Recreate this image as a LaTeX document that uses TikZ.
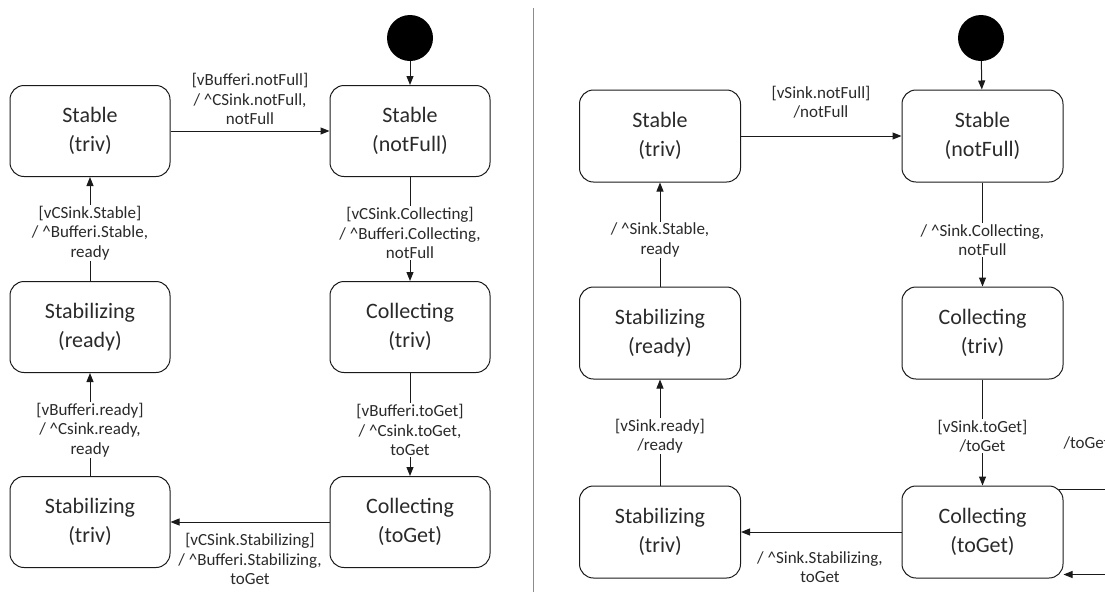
\documentclass[tikz,border=0pt]{standalone}
\usepackage{fontspec}
\setmainfont{Carlito}
\usetikzlibrary{arrows.meta}
\definecolor{ink}{HTML}{1A1A1A}
\definecolor{txt}{HTML}{2A2A2A}
\definecolor{rule}{HTML}{8C8C8C}
\newcommand{\caret}{\textasciicircum}
\begin{document}
\begin{tikzpicture}[x=1pt,y=-1pt,
  state/.style={draw=ink, line width=1pt, rounded corners=14pt, minimum width=160pt,
    minimum height=91pt, inner sep=0pt, align=center, text=txt,
    font=\fontsize{22}{29}\selectfont},
  tallstate/.style={state, minimum width=161pt, minimum height=92pt},
  initial/.style={circle, fill=black, minimum size=46pt, inner sep=0pt},
  trans/.style={draw=ink, line width=1pt, -{Triangle[length=9pt,width=7pt]}},
  lbl/.style={fill=white, inner sep=1pt, align=center, text=txt,
    font=\fontsize{17}{19.5}\selectfont},
]
\useasboundingbox (0,0) rectangle (1105,595);
\clip (0,0) rectangle (1105,595);

% ---------- left machine ----------
\node[initial] (i1) at (410,38) {};
\node[state] (st1) at (90,131)  {Stable\\(triv)};
\node[state] (sn1) at (410,131) {Stable\\(notFull)};
\node[state] (sr1) at (90,327)  {Stabilizing\\(ready)};
\node[state] (ct1) at (410,327) {Collecting\\(triv)};
\node[state] (sz1) at (90,522)  {Stabilizing\\(triv)};
\node[state] (cg1) at (410,522) {Collecting\\(toGet)};

\draw[trans] (i1) -- (sn1);
\draw[trans] (st1) -- (sn1)
  node[lbl, fill=none] at (250,99) {[vBufferi.notFull]\\/ \caret CSink.notFull,\\notFull};
\draw[trans] (sn1) -- (ct1)
  node[lbl] at (410,233) {[vCSink.Collecting]\\/ \caret Bufferi.Collecting,\\notFull};
\draw[trans] (ct1) -- (cg1)
  node[lbl] at (410,430) {[vBufferi.toGet]\\/ \caret Csink.toGet,\\toGet};
\draw[trans] (cg1) -- (sz1)
  node[lbl, fill=none] at (250,559) {[vCSink.Stabilizing]\\/ \caret Bufferi.Stabilizing,\\toGet};
\draw[trans] (sz1) -- (sr1)
  node[lbl] at (90,430) {[vBufferi.ready]\\/ \caret Csink.ready,\\ready};
\draw[trans] (sr1) -- (st1)
  node[lbl] at (90,233) {[vCSink.Stable]\\/ \caret Bufferi.Stable,\\ready};

% ---------- divider ----------
\draw[rule, line width=1pt] (533,8) -- (533,592);

% ---------- right machine ----------
\node[initial] (i2) at (981,38) {};
\node[tallstate] (st2) at (660,136)   {Stable\\(triv)};
\node[tallstate] (sn2) at (982.5,136) {Stable\\(notFull)};
\node[tallstate] (sr2) at (660,333)   {Stabilizing\\(ready)};
\node[tallstate] (ct2) at (982.5,333) {Collecting\\(triv)};
\node[tallstate] (sz2) at (660,532)   {Stabilizing\\(triv)};
\node[tallstate] (cg2) at (982.5,532) {Collecting\\(toGet)};

\draw[trans] (i2) -- (sn2);
\draw[trans] (st2) -- (sn2)
  node[lbl, fill=none] at (821,102) {[vSink.notFull]\\/notFull};
\draw[trans] (sn2) -- (ct2)
  node[lbl] at (982.5,240) {/ \caret Sink.Collecting,\\notFull};
\draw[trans] (ct2) -- (cg2)
  node[lbl] at (982.5,436) {[vSink.toGet]\\/toGet};
\draw[trans] (cg2) -- (sz2)
  node[lbl, fill=none] at (820,567) {/ \caret Sink.Stabilizing,\\toGet};
\draw[trans] (sz2) -- (sr2)
  node[lbl] at (660,436) {[vSink.ready]\\/ready};
\draw[trans] (sr2) -- (st2)
  node[lbl] at (660,240) {/ \caret Sink.Stable,\\ready};

% self-transition leaving past the right edge
\draw[trans] ([xshift=-5pt,yshift=-4pt]cg2.north east) -- ++(70,0)
  |- ([yshift=4pt]cg2.south east)
  node[lbl, fill=none, anchor=west] at (1062,443) {/toGet};
\end{tikzpicture}
\end{document}
